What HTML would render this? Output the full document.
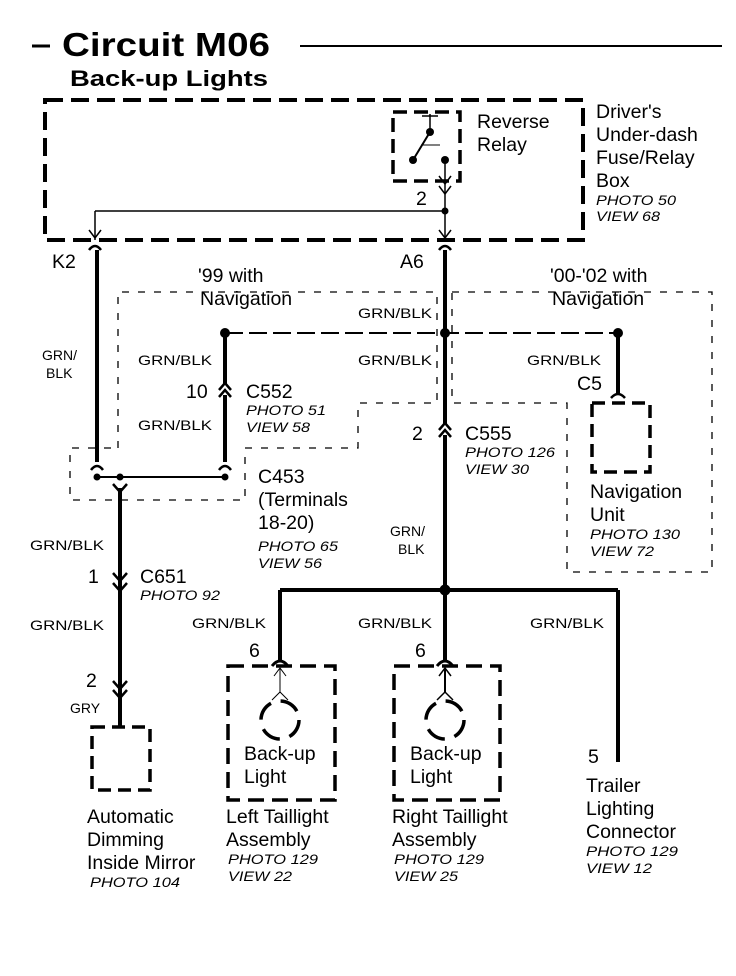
<!DOCTYPE html>
<html><head><meta charset="utf-8"><style>
body{margin:0;background:#fff}
svg{display:block}
text{font-family:"Liberation Sans",sans-serif;fill:#000}
.b{font-weight:bold}
.l{font-size:19.5px}
.s{font-size:14px}
.i{font-size:14px;font-style:italic}
</style></head><body>
<svg width="736" height="976" viewBox="0 0 736 976" xmlns="http://www.w3.org/2000/svg">
<g stroke="#000" fill="none">
<line x1="32" y1="46" x2="50" y2="46" stroke-width="3"/>
<line x1="300" y1="46" x2="722" y2="46" stroke-width="2"/>
<rect x="45" y="100" width="538" height="140" stroke-width="4" stroke-dasharray="18,8"/>
<rect x="393" y="112" width="67" height="69" stroke-width="3.5" stroke-dasharray="14,7"/>
<line x1="430" y1="114" x2="430" y2="132" stroke-width="1.5"/>
<line x1="422" y1="116" x2="438" y2="116" stroke-width="1.5"/>
<line x1="430" y1="132" x2="413" y2="160" stroke-width="2"/>
<line x1="421" y1="145" x2="440" y2="145" stroke-width="1"/>
<line x1="445" y1="160" x2="445" y2="240" stroke-width="1.5"/>
<line x1="95" y1="211" x2="445" y2="211" stroke-width="1.5"/>
<line x1="95" y1="211" x2="95" y2="240" stroke-width="1.5"/>
<path d="M439,176 L445,184 L451,176 M439,186 L445,194 L451,186 M439,230 L445,238 L451,230 M89,230 L95,238 L101,230" stroke-width="1.5"/>
<path d="M89,250 Q95,242 101,250 M439,250 Q445,242 451,250" stroke-width="2.5"/>
<path d="M118,448 L118,292 L437,292 L437,403 L358,403 L358,448 L245,448 L245,500 L70,500 L70,448 L118,448" stroke-width="1.3" stroke-dasharray="7,9"/>
<path d="M452,292 L712,292 L712,572 L567,572 L567,403 L452,403 Z" stroke-width="1.3" stroke-dasharray="7,9"/>
<line x1="97" y1="250" x2="97" y2="462" stroke-width="4"/>
<line x1="445" y1="250" x2="445" y2="425" stroke-width="4"/>
<line x1="445" y1="435" x2="445" y2="660" stroke-width="4"/>
<line x1="225" y1="333" x2="618" y2="333" stroke-width="2" stroke-dasharray="18,6"/>
<line x1="225" y1="333" x2="225" y2="385" stroke-width="4"/>
<line x1="225" y1="395" x2="225" y2="462" stroke-width="4"/>
<line x1="618" y1="333" x2="618" y2="393" stroke-width="4"/>
<path d="M219,390 L225,383 L231,390 M219,397 L225,390 L231,397 M439,430 L445,423 L451,430 M439,437 L445,430 L451,437" stroke-width="2.5"/>
<path d="M611,398 Q618,390 625,398 M91,470 Q97,462 103,470 M219,470 Q225,462 231,470" stroke-width="2.5"/>
<line x1="97" y1="477" x2="225" y2="477" stroke-width="2"/>
<path d="M113,484 L120,492 L127,484 M113,573 L120,581 L127,573 M113,583 L120,591 L127,583 M113,681 L120,689 L127,681 M113,690 L120,698 L127,690" stroke-width="2.5"/>
<line x1="120" y1="488" x2="120" y2="727" stroke-width="4"/>
<rect x="592" y="403" width="58" height="69" stroke-width="3.5" stroke-dasharray="13,7"/>
<line x1="280" y1="590" x2="618" y2="590" stroke-width="4"/>
<line x1="280" y1="590" x2="280" y2="660" stroke-width="4"/>
<line x1="618" y1="590" x2="618" y2="762" stroke-width="4"/>
<path d="M272,666 Q280,656 288,666 M437,666 Q445,656 453,666" stroke-width="3"/>
<rect x="92" y="727" width="58" height="63" stroke-width="3.5" stroke-dasharray="13,7"/>
<rect x="228" y="666" width="107" height="134" stroke-width="3.5" stroke-dasharray="16,8"/>
<rect x="394" y="666" width="106" height="134" stroke-width="3.5" stroke-dasharray="16,8"/>
<line x1="280" y1="668" x2="280" y2="693" stroke-width="1"/>
<path d="M274,676 L280,668 L286,676 M272,700 L280,692 L288,700" stroke-width="1"/>
<circle cx="280" cy="720" r="19" stroke-width="3.5" stroke-dasharray="20,10"/>
<line x1="445" y1="668" x2="445" y2="693" stroke-width="2"/>
<path d="M439,676 L445,668 L451,676 M437,700 L445,692 L453,700" stroke-width="1.5"/>
<circle cx="445" cy="720" r="19" stroke-width="3.5" stroke-dasharray="20,10"/>
</g>
<g fill="#000">
<circle cx="430" cy="132" r="4"/><circle cx="413" cy="160" r="4"/><circle cx="445" cy="160" r="4"/>
<circle cx="445" cy="211" r="3.5"/>
<circle cx="225" cy="333" r="5"/><circle cx="445" cy="333" r="5"/><circle cx="618" cy="333" r="5"/>
<circle cx="97" cy="477" r="3.5"/><circle cx="120" cy="477" r="3.5"/><circle cx="225" cy="477" r="3.5"/>
<circle cx="445" cy="590" r="5.5"/>
</g>
<text x="62" y="56" class="b" font-size="33" textLength="208" lengthAdjust="spacingAndGlyphs">Circuit M06</text>
<text x="70" y="86" class="b" font-size="22" textLength="198" lengthAdjust="spacingAndGlyphs">Back-up Lights</text>
<text x="477" y="128" class="l">Reverse</text>
<text x="477" y="151" class="l">Relay</text>
<text x="416" y="205" class="l">2</text>
<text x="596" y="118" class="l">Driver's</text>
<text x="596" y="141" class="l">Under-dash</text>
<text x="596" y="164" class="l">Fuse/Relay</text>
<text x="596" y="187" class="l">Box</text>
<text x="596" y="205" class="i" textLength="80" lengthAdjust="spacingAndGlyphs">PHOTO 50</text>
<text x="596" y="221" class="i" textLength="64" lengthAdjust="spacingAndGlyphs">VIEW 68</text>
<text x="52" y="268" class="l">K2</text>
<text x="400" y="268" class="l">A6</text>
<text x="198" y="282" class="l">'99 with</text>
<text x="200" y="305" class="l">Navigation</text>
<text x="550" y="282" class="l">'00-'02 with</text>
<text x="552" y="305" class="l">Navigation</text>
<text x="358" y="318" class="s" textLength="74" lengthAdjust="spacingAndGlyphs">GRN/BLK</text>
<text x="42" y="360" class="s">GRN/</text>
<text x="46" y="378" class="s">BLK</text>
<text x="138" y="365" class="s" textLength="74" lengthAdjust="spacingAndGlyphs">GRN/BLK</text>
<text x="358" y="365" class="s" textLength="74" lengthAdjust="spacingAndGlyphs">GRN/BLK</text>
<text x="527" y="365" class="s" textLength="74" lengthAdjust="spacingAndGlyphs">GRN/BLK</text>
<text x="186" y="398" class="l">10</text>
<text x="246" y="398" class="l">C552</text>
<text x="246" y="415" class="i" textLength="80" lengthAdjust="spacingAndGlyphs">PHOTO 51</text>
<text x="246" y="432" class="i" textLength="64" lengthAdjust="spacingAndGlyphs">VIEW 58</text>
<text x="138" y="430" class="s" textLength="74" lengthAdjust="spacingAndGlyphs">GRN/BLK</text>
<text x="577" y="390" class="l">C5</text>
<text x="412" y="440" class="l">2</text>
<text x="465" y="440" class="l">C555</text>
<text x="465" y="457" class="i" textLength="90" lengthAdjust="spacingAndGlyphs">PHOTO 126</text>
<text x="465" y="474" class="i" textLength="64" lengthAdjust="spacingAndGlyphs">VIEW 30</text>
<text x="258" y="483" class="l">C453</text>
<text x="258" y="506" class="l">(Terminals</text>
<text x="258" y="529" class="l">18-20)</text>
<text x="258" y="551" class="i" textLength="80" lengthAdjust="spacingAndGlyphs">PHOTO 65</text>
<text x="258" y="568" class="i" textLength="64" lengthAdjust="spacingAndGlyphs">VIEW 56</text>
<text x="590" y="498" class="l">Navigation</text>
<text x="590" y="521" class="l">Unit</text>
<text x="590" y="539" class="i" textLength="90" lengthAdjust="spacingAndGlyphs">PHOTO 130</text>
<text x="590" y="556" class="i" textLength="64" lengthAdjust="spacingAndGlyphs">VIEW 72</text>
<text x="390" y="536" class="s">GRN/</text>
<text x="398" y="554" class="s">BLK</text>
<text x="30" y="550" class="s" textLength="74" lengthAdjust="spacingAndGlyphs">GRN/BLK</text>
<text x="88" y="583" class="l">1</text>
<text x="140" y="583" class="l">C651</text>
<text x="140" y="600" class="i" textLength="80" lengthAdjust="spacingAndGlyphs">PHOTO 92</text>
<text x="30" y="630" class="s" textLength="74" lengthAdjust="spacingAndGlyphs">GRN/BLK</text>
<text x="192" y="628" class="s" textLength="74" lengthAdjust="spacingAndGlyphs">GRN/BLK</text>
<text x="358" y="628" class="s" textLength="74" lengthAdjust="spacingAndGlyphs">GRN/BLK</text>
<text x="530" y="628" class="s" textLength="74" lengthAdjust="spacingAndGlyphs">GRN/BLK</text>
<text x="249" y="657" class="l">6</text>
<text x="415" y="657" class="l">6</text>
<text x="86" y="687" class="l">2</text>
<text x="70" y="713" class="s">GRY</text>
<text x="244" y="760" class="l">Back-up</text>
<text x="244" y="783" class="l">Light</text>
<text x="410" y="760" class="l">Back-up</text>
<text x="410" y="783" class="l">Light</text>
<text x="588" y="763" class="l">5</text>
<text x="586" y="792" class="l">Trailer</text>
<text x="586" y="815" class="l">Lighting</text>
<text x="586" y="838" class="l">Connector</text>
<text x="586" y="856" class="i" textLength="92" lengthAdjust="spacingAndGlyphs">PHOTO 129</text>
<text x="586" y="873" class="i" textLength="66" lengthAdjust="spacingAndGlyphs">VIEW 12</text>
<text x="87" y="823" class="l">Automatic</text>
<text x="87" y="846" class="l">Dimming</text>
<text x="87" y="869" class="l">Inside Mirror</text>
<text x="90" y="887" class="i" textLength="90" lengthAdjust="spacingAndGlyphs">PHOTO 104</text>
<text x="226" y="823" class="l">Left Taillight</text>
<text x="226" y="846" class="l">Assembly</text>
<text x="228" y="864" class="i" textLength="90" lengthAdjust="spacingAndGlyphs">PHOTO 129</text>
<text x="228" y="881" class="i" textLength="64" lengthAdjust="spacingAndGlyphs">VIEW 22</text>
<text x="392" y="823" class="l">Right Taillight</text>
<text x="392" y="846" class="l">Assembly</text>
<text x="394" y="864" class="i" textLength="90" lengthAdjust="spacingAndGlyphs">PHOTO 129</text>
<text x="394" y="881" class="i" textLength="64" lengthAdjust="spacingAndGlyphs">VIEW 25</text>
</svg>
</body></html>
